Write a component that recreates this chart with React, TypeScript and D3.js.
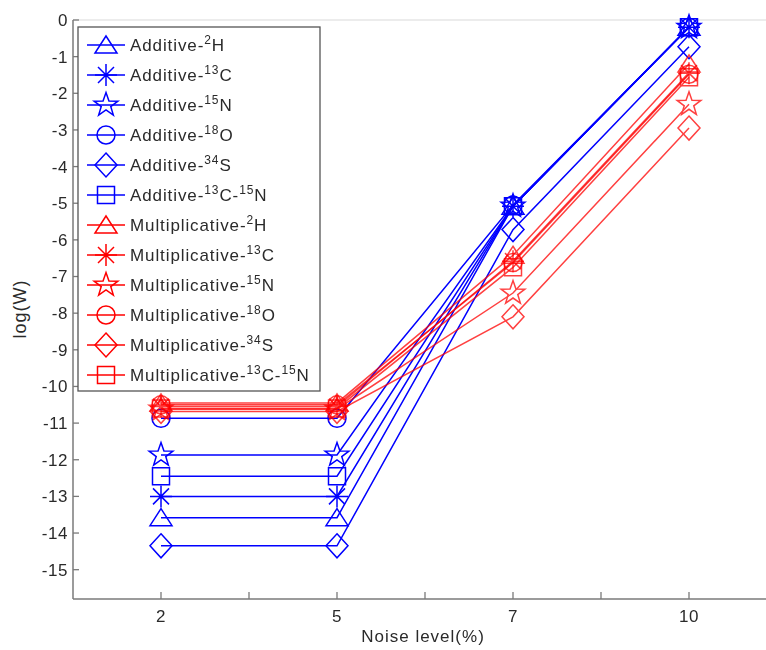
import React from "react";
import * as d3 from "d3";

const noiseLevels = ["2", "5", "7", "10"];
const yTicks = [0, -1, -2, -3, -4, -5, -6, -7, -8, -9, -10, -11, -12, -13, -14, -15];

const add2H = [-13.58, -13.58, -5.08, -0.2];
const add13C = [-13.0, -13.0, -5.08, -0.2];
const add15N = [-11.87, -11.87, -5.08, -0.2];
const add18O = [-10.87, -10.87, -5.05, -0.2];
const add34S = [-14.35, -14.35, -5.72, -0.73];
const add13C15N = [-12.45, -12.45, -5.08, -0.2];

const mul2H = [-10.45, -10.45, -6.42, -1.2];
const mul13C = [-10.55, -10.55, -6.58, -1.45];
const mul15N = [-10.62, -10.62, -7.45, -2.3];
const mul18O = [-10.5, -10.5, -6.62, -1.48];
const mul34S = [-10.68, -10.68, -8.1, -2.95];
const mul13C15N = [-10.6, -10.6, -6.75, -1.56];

type Series = { prefix: string; iso: [string, string][]; values: number[]; color: string; marker: string };

const isoH: [string, string][] = [["2", "H"]];
const isoC: [string, string][] = [["13", "C"]];
const isoN: [string, string][] = [["15", "N"]];
const isoO: [string, string][] = [["18", "O"]];
const isoS: [string, string][] = [["34", "S"]];
const isoCN: [string, string][] = [["13", "C-"], ["15", "N"]];

const BLUE = "#0000ff";
const RED = "#ff0000";

const series: Series[] = [
  { prefix: "Additive-", iso: isoH, values: add2H, color: BLUE, marker: "triangle" },
  { prefix: "Additive-", iso: isoC, values: add13C, color: BLUE, marker: "asterisk" },
  { prefix: "Additive-", iso: isoN, values: add15N, color: BLUE, marker: "star" },
  { prefix: "Additive-", iso: isoO, values: add18O, color: BLUE, marker: "circle" },
  { prefix: "Additive-", iso: isoS, values: add34S, color: BLUE, marker: "diamond" },
  { prefix: "Additive-", iso: isoCN, values: add13C15N, color: BLUE, marker: "square" },
  { prefix: "Multiplicative-", iso: isoH, values: mul2H, color: RED, marker: "triangle" },
  { prefix: "Multiplicative-", iso: isoC, values: mul13C, color: RED, marker: "asterisk" },
  { prefix: "Multiplicative-", iso: isoN, values: mul15N, color: RED, marker: "star" },
  { prefix: "Multiplicative-", iso: isoO, values: mul18O, color: RED, marker: "circle" },
  { prefix: "Multiplicative-", iso: isoS, values: mul34S, color: RED, marker: "diamond" },
  { prefix: "Multiplicative-", iso: isoCN, values: mul13C15N, color: RED, marker: "square" },
];

function markerPath(type: string): string {
  switch (type) {
    case "triangle":
      return "M0,-9 L11,8 L-11,8 Z";
    case "asterisk":
      return "M-11,0 L11,0 M0,-11 L0,11 M-8,-8 L8,8 M-8,8 L8,-8";
    case "star": {
      const pts: string[] = [];
      for (let i = 0; i < 10; i++) {
        const r = i % 2 === 0 ? 12.5 : 5;
        const a = -Math.PI / 2 + (i * Math.PI) / 5;
        pts.push(`${(r * Math.cos(a)).toFixed(2)},${(r * Math.sin(a)).toFixed(2)}`);
      }
      return "M" + pts.join(" L") + " Z";
    }
    case "circle":
      return "M9,0 A9,9 0 1,1 -9,0 A9,9 0 1,1 9,0 Z";
    case "diamond":
      return "M0,-12 L11,0 L0,12 L-11,0 Z";
    case "square":
      return "M-8.5,-8.5 L8.5,-8.5 L8.5,8.5 L-8.5,8.5 Z";
  }
  return "";
}

const FONT = "'Liberation Sans', Arial, sans-serif";

export default function App() {
  const W = 766;
  const H = 650;
  const x = d3.scaleLinear().domain([0.5, 4.5]).range([73, 777]);
  const y = d3.scaleLinear().domain([-15.8, 0]).range([599, 20]);
  const line = d3
    .line<number>()
    .x((_, i) => x(i + 1))
    .y((d) => y(d));

  const minorX = [1.5, 2.5, 3.5];
  const axisColor = "#7a7a7a";
  const textColor = "#2a2a2a";

  const legendX = 78;
  const legendY = 27;
  const legendW = 242;
  const legendH = 364;
  const rowY = (i: number) => 45 + i * 30;

  return (
    <svg
      width={W}
      height={H}
      style={{ position: "absolute", left: 0, top: 0, background: "#fff" }}
      fontFamily={FONT}
    >
      <rect x={0} y={0} width={W} height={H} fill="#fff" />
      <line x1={73} x2={777} y1={20} y2={20} stroke="#e6e6e6" strokeWidth={1.5} />
      {series.map((s, si) => (
        <g key={si} opacity={s.color === RED ? 0.75 : 1}>
          <path d={line(s.values) || ""} fill="none" stroke={s.color} strokeWidth={1.5} />
          {s.values.map((v, i) => (
            <path
              key={i}
              d={markerPath(s.marker)}
              transform={`translate(${x(i + 1)},${y(v)})`}
              fill="none"
              stroke={s.color}
              strokeWidth={1.5}
            />
          ))}
        </g>
      ))}
      <line x1={73} x2={73} y1={20} y2={599} stroke={axisColor} strokeWidth={1.5} />
      <line x1={73} x2={777} y1={599} y2={599} stroke={axisColor} strokeWidth={1.5} />
      {yTicks.map((t) => (
        <g key={t}>
          <line x1={73} x2={79} y1={y(t)} y2={y(t)} stroke={axisColor} strokeWidth={1.3} />
          <text x={68} y={y(t)} dy="0.35em" textAnchor="end" fontSize={17} letterSpacing={0.6} fill={textColor}>
            {t === 0 ? "0" : `-${Math.abs(t)}`}
          </text>
        </g>
      ))}
      {noiseLevels.map((lab, i) => (
        <g key={lab}>
          <line x1={x(i + 1)} x2={x(i + 1)} y1={599} y2={592} stroke={axisColor} strokeWidth={1.3} />
          <text x={x(i + 1)} y={616} dy="0.35em" textAnchor="middle" fontSize={17} letterSpacing={0.6} fill={textColor}>
            {lab}
          </text>
        </g>
      ))}
      {minorX.map((m) => (
        <line key={m} x1={x(m)} x2={x(m)} y1={599} y2={592} stroke={axisColor} strokeWidth={1.3} />
      ))}
      <text x={423} y={636} dy="0.35em" textAnchor="middle" fontSize={17} letterSpacing={1} fill={textColor}>
        Noise level(%)
      </text>
      <text
        transform="translate(20,309) rotate(-90)"
        textAnchor="middle"
        dy="0.35em"
        fontSize={18}
        letterSpacing={1}
        fill={textColor}
      >
        log(W)
      </text>
      <rect x={legendX} y={legendY} width={legendW} height={legendH} fill="#fff" stroke="#555" strokeWidth={1.3} />
      {series.map((s, i) => (
        <g key={i}>
          <line x1={87} x2={125} y1={rowY(i)} y2={rowY(i)} stroke={s.color} strokeWidth={1.5} />
          <path d={markerPath(s.marker)} transform={`translate(106,${rowY(i)})`} fill="none" stroke={s.color} strokeWidth={1.5} />
          <text x={130} y={rowY(i) + 6} fontSize={17} letterSpacing={0.9} fill={textColor}>
            {s.prefix}
            {s.iso.map(([sup, el], k) => (
              <React.Fragment key={k}>
                <tspan dy={-7} fontSize={12}>{sup}</tspan>
                <tspan dy={7} fontSize={17}>{el}</tspan>
              </React.Fragment>
            ))}
          </text>
        </g>
      ))}
    </svg>
  );
}
